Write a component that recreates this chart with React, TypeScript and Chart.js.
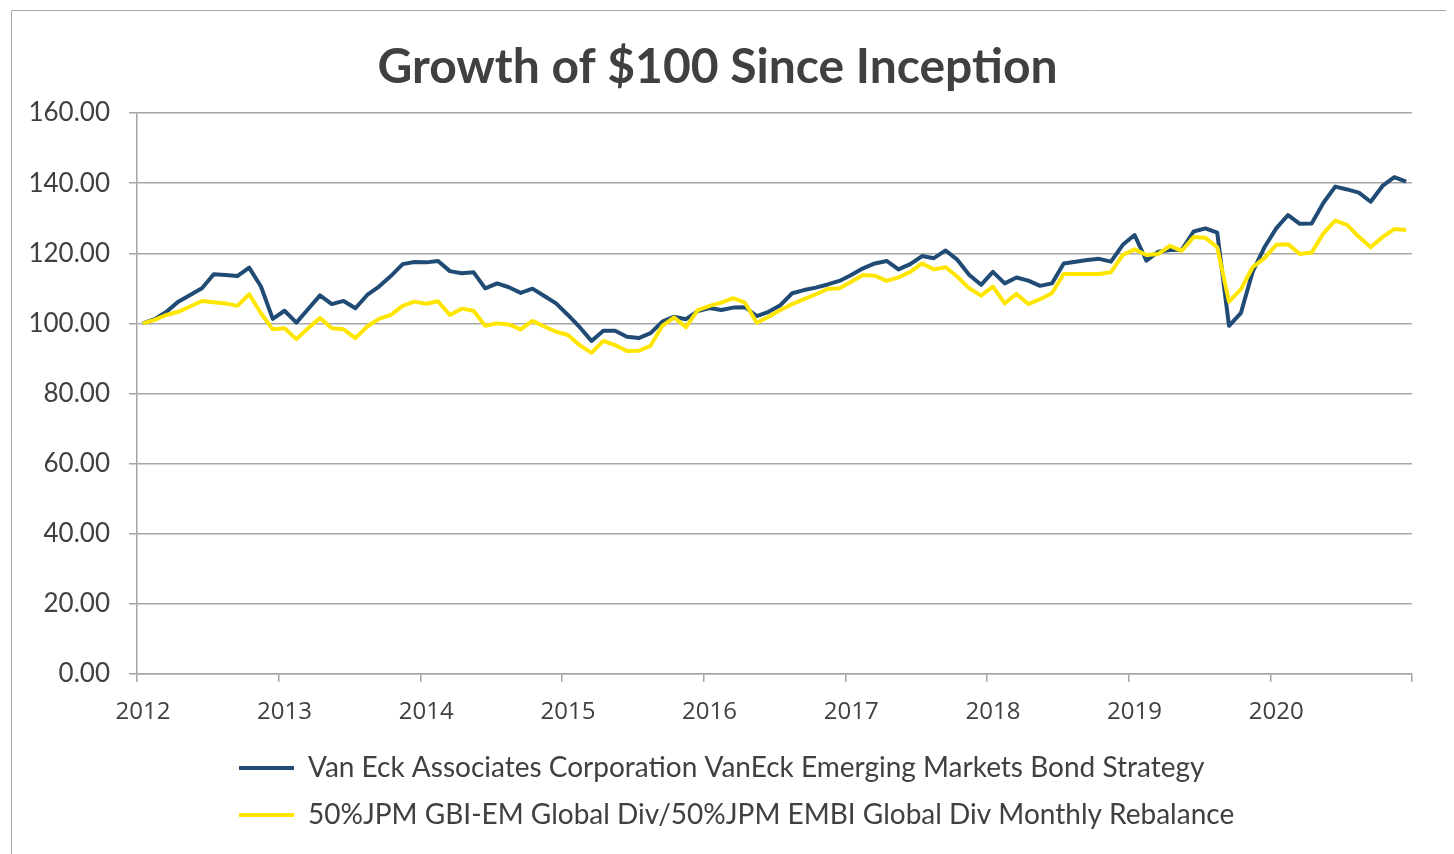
import React, { useEffect, useRef } from 'react';
import { Chart, registerables } from 'chart.js';

Chart.register(...registerables);

const chartTitle = 'Growth of $100 Since Inception';
const years = ['2012', '2013', '2014', '2015', '2016', '2017', '2018', '2019', '2020'];
const months = ['01', '02', '03', '04', '05', '06', '07', '08', '09', '10', '11', '12'];
const monthLabels = years.flatMap((y) => months.map((m) => `${y}-${m}`));

const seriesNames = [
  'Van Eck Associates Corporation VanEck Emerging Markets Bond Strategy',
  '50%JPM GBI-EM Global Div/50%JPM EMBI Global Div Monthly Rebalance',
];

const vanEck = [
  100.0, 101.2, 103.3, 106.2, 108.1, 110.0, 114.0, 113.8, 113.5, 115.9, 110.5, 101.3,
  103.6, 100.2, 104.1, 108.0, 105.5, 106.4, 104.3, 108.1, 110.5, 113.5, 116.9, 117.5,
  117.4, 117.8, 114.9, 114.3, 114.6, 110.0, 111.4, 110.3, 108.7, 109.9, 107.8, 105.7,
  102.4, 98.9, 95.0, 97.9, 97.9, 96.2, 95.8, 97.2, 100.5, 101.9, 101.2, 103.5,
  104.4, 103.8, 104.5, 104.6, 102.1, 103.3, 105.2, 108.6, 109.5, 110.2, 111.1, 112.1,
  113.8, 115.7, 117.1, 117.8, 115.4, 116.9, 119.2, 118.6, 120.8, 118.1, 113.8, 111.0,
  114.7, 111.4, 113.1, 112.2, 110.7, 111.4, 117.1, 117.6, 118.1, 118.4, 117.6, 122.4,
  125.2, 117.9, 120.4, 120.9, 121.0, 126.2, 127.1, 125.9, 99.3, 102.9, 114.7, 121.7,
  127.1, 130.9, 128.4, 128.5, 134.4, 139.0, 138.2, 137.3, 134.7, 139.2, 141.7, 140.4,
];

const benchmark = [
  100.0, 101.0, 102.4, 103.3, 104.8, 106.4, 106.0, 105.7, 105.0, 108.3, 102.9, 98.3,
  98.6, 95.5, 98.6, 101.5, 98.6, 98.3, 95.8, 99.1, 101.3, 102.4, 105.0, 106.2,
  105.6, 106.3, 102.4, 104.2, 103.6, 99.3, 100.0, 99.7, 98.3, 100.7, 99.1, 97.6,
  96.7, 93.8, 91.6, 95.0, 93.8, 92.1, 92.2, 93.6, 99.3, 101.7, 98.9, 103.8,
  105.0, 105.9, 107.2, 105.9, 100.2, 101.9, 103.8, 105.5, 106.9, 108.3, 109.8, 110.0,
  111.9, 113.8, 113.6, 112.1, 113.1, 114.7, 117.1, 115.4, 116.0, 113.3, 110.0, 107.9,
  110.5, 105.7, 108.4, 105.5, 106.9, 108.6, 114.1, 114.1, 114.1, 114.1, 114.6, 119.5,
  121.1, 119.5, 119.8, 122.1, 120.7, 124.6, 124.4, 121.7, 106.2, 109.7, 116.0, 118.6,
  122.4, 122.6, 119.8, 120.2, 125.7, 129.3, 128.1, 124.7, 121.7, 124.6, 126.9, 126.6,
];

const yMin = 0;
const yMax = 160;
const yStep = 20;

const NAVY = '#1f4b75';
const YELLOW = '#ffe600';
const TEXT = '#404040';
const GRID = '#a6a6a6';

const framePlugin = {
  id: 'frame',
  beforeDraw(chart: any) {
    const ctx = chart.ctx;
    ctx.save();
    ctx.strokeStyle = GRID;
    ctx.lineWidth = 1;
    ctx.beginPath();
    ctx.moveTo(3.5, chart.height);
    ctx.lineTo(3.5, 2.5);
    ctx.lineTo(chart.width, 2.5);
    ctx.stroke();
    ctx.restore();
  },
};

const titlePlugin = {
  id: 'customTitle',
  afterDraw(chart: any) {
    const ctx = chart.ctx;
    ctx.save();
    ctx.font = 'bold 48px Lato';
    ctx.fillStyle = TEXT;
    ctx.textAlign = 'center';
    ctx.textBaseline = 'alphabetic';
    ctx.fillText(chartTitle, 709.5, 75);
    ctx.restore();
  },
};

// Left-align both legend rows at the same x, as in the reference.
const legendAlignPlugin = {
  id: 'legendAlign',
  afterLayout(chart: any) {
    const lg = chart.legend;
    if (lg) lg.left = 212;
  },
};

export default function App() {
  const canvasRef = useRef<HTMLCanvasElement | null>(null);

  useEffect(() => {
    document.documentElement.style.overflow = 'hidden';
    document.body.style.overflow = 'hidden';
    const canvas = canvasRef.current;
    if (!canvas) return;
    const chart = new Chart(canvas, {
      type: 'line',
      data: {
        labels: monthLabels,
        datasets: [
          {
            label: seriesNames[0],
            data: vanEck,
            borderColor: NAVY,
            backgroundColor: NAVY,
            borderWidth: 4,
            pointRadius: 0,
            tension: 0,
            order: 1,
            borderJoinStyle: 'round',
          },
          {
            label: seriesNames[1],
            data: benchmark,
            borderColor: YELLOW,
            backgroundColor: YELLOW,
            borderWidth: 4,
            pointRadius: 0,
            tension: 0,
            order: 0,
            borderJoinStyle: 'round',
          },
        ],
      },
      options: {
        responsive: false,
        animation: false,
        devicePixelRatio: 1,
        layout: { padding: { top: 105, left: 0, right: 14, bottom: 15 } },
        plugins: {
          title: { display: false },
          tooltip: { enabled: false },
          legend: {
            position: 'bottom',
            align: 'start',
            labels: {
              usePointStyle: true,
              pointStyle: 'line',
              pointStyleWidth: 55,
              font: { family: 'Lato', size: 28 },
              color: TEXT,
              padding: 19,
              sort: (a: any, b: any) => a.datasetIndex - b.datasetIndex,
            },
          },
        },
        scales: {
          x: {
            type: 'category',
            offset: true,
            grid: {
              offset: true,
              drawOnChartArea: false,
              tickLength: 8,
              lineWidth: 1.5,
              color: (c: any) => (c.type !== 'tick' || c.index % 12 === 0 ? GRID : 'rgba(0,0,0,0)'),
            },
            border: { display: true, color: GRID, width: 1.5 },
            ticks: {
              autoSkip: false,
              maxRotation: 0,
              minRotation: 0,
              padding: 16,
              font: { family: 'Open Sans', size: 24 },
              color: TEXT,
              callback: (_v: any, i: number) => (i % 12 === 0 ? monthLabels[i].slice(0, 4) : ''),
            },
            afterFit(s: any) {
              s.height = 61;
            },
          },
          y: {
            min: yMin,
            max: yMax,
            ticks: {
              stepSize: yStep,
              padding: 19,
              font: { family: 'Lato', size: 26 },
              color: TEXT,
              callback: (v: any) => Number(v).toFixed(2),
            },
            grid: { color: GRID, lineWidth: 1.5, tickLength: 8 },
            border: { color: GRID, width: 1.5 },
            afterFit(s: any) {
              s.width = 129;
            },
          },
          spacer: {
            type: 'linear',
            position: 'right',
            display: true,
            ticks: { display: false },
            grid: { display: false, drawTicks: false },
            border: { display: false },
            afterFit(s: any) {
              s.width = 28;
            },
          },
        },
      },
      plugins: [framePlugin, titlePlugin, legendAlignPlugin],
    } as any);
    return () => chart.destroy();
  }, []);

  return (
    <div style={{ width: 1446, height: 846 }}>
      <canvas ref={canvasRef} width={1446} height={846} style={{ display: 'block' }} />
    </div>
  );
}
